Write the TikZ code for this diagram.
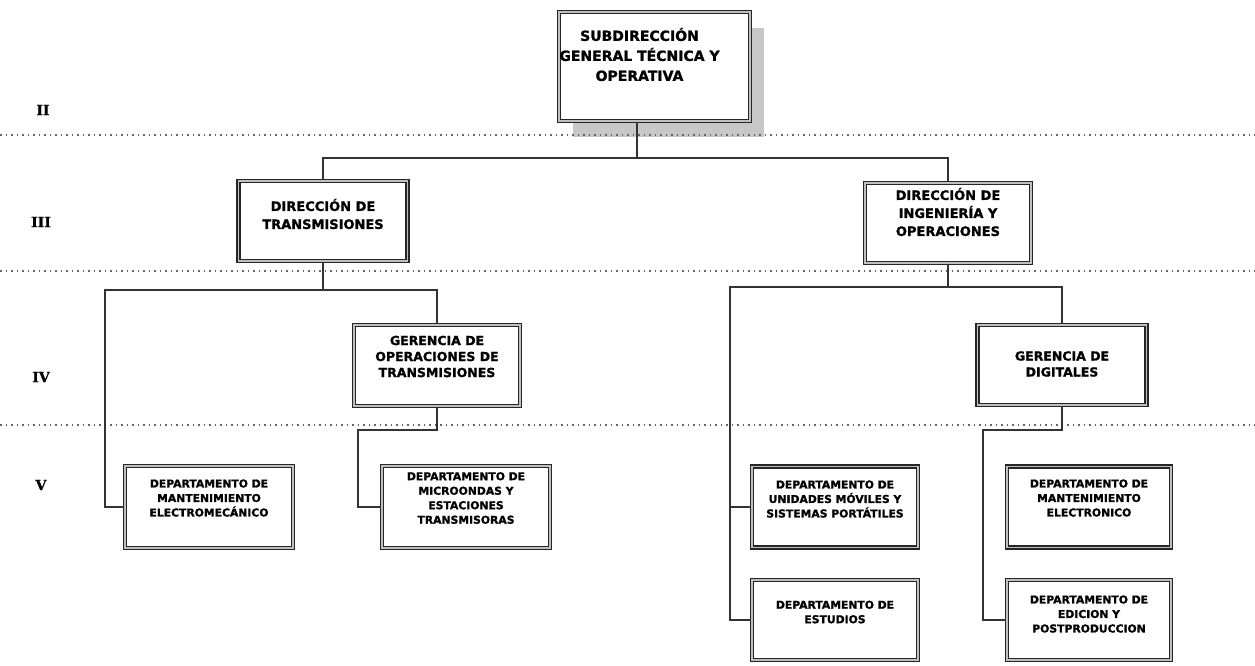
\documentclass[tikz,border=0pt]{standalone}
\usepackage{fontspec}
\setmainfont{DejaVu Sans}[BoldFeatures={FakeBold=1.2}]
\newfontfamily\levelfont{DejaVu Serif}[BoldFeatures={FakeBold=1.2}]
\usetikzlibrary{shadows}

\tikzset{
  box/.style={draw=black!85, line width=1.2pt, double=gray!50, double distance=1.8pt,
    fill=white, inner sep=0pt},
  boxtext/.style={align=center, text=black},
  sizeA/.style={font=\bfseries\fontsize{14}{20}\selectfont},
  sizeB/.style={font=\bfseries\fontsize{13}{18}\selectfont},
  sizeC/.style={font=\bfseries\fontsize{12.5}{16}\selectfont},
  sizeD/.style={font=\bfseries\fontsize{10.8}{14.5}\selectfont},
  conn/.style={line width=1.6pt, black!80},
  levelline/.style={dash pattern=on 1.5pt off 4pt, line width=1.4pt, black!60},
  levellabel/.style={font=\levelfont\bfseries\fontsize{14}{14}\selectfont}
}

\begin{document}
\begin{tikzpicture}[x=1pt, y=-1pt]
  \useasboundingbox (0,0) rectangle (1255,665);

  % Level II
  \node[box, minimum width=191pt, minimum height=109pt,
    drop shadow={shadow xshift=14pt, shadow yshift=-16pt, fill=black!22, opacity=1},
    label={[boxtext, sizeA, xshift=-15pt, yshift=12pt]center:{SUBDIRECCIÓN\\GENERAL TÉCNICA Y\\OPERATIVA}}]
    (sub) at (654.5,66.5) {};

  % Level III
  \node[box, minimum width=169pt, minimum height=80pt,
    label={[boxtext, sizeB, yshift=7pt]center:{DIRECCIÓN DE\\TRANSMISIONES}}]
    (trans) at (323,221) {};
  \node[box, minimum width=166pt, minimum height=80pt,
    label={[boxtext, sizeB, yshift=11pt]center:{DIRECCIÓN DE\\INGENIERÍA Y\\OPERACIONES}}]
    (ing) at (948,223) {};

  % Level IV
  \node[box, minimum width=166pt, minimum height=81pt,
    label={[boxtext, sizeC, yshift=9pt]center:{GERENCIA DE\\OPERACIONES DE\\TRANSMISIONES}}]
    (gop) at (437,365.5) {};
  \node[box, minimum width=169pt, minimum height=80pt,
    label={[boxtext, sizeC, yshift=1pt]center:{GERENCIA DE\\DIGITALES}}]
    (gdig) at (1062,365) {};

  % Level V
  \node[box, minimum width=168pt, minimum height=82pt,
    label={[boxtext, sizeD, yshift=9pt]center:{DEPARTAMENTO DE\\MANTENIMIENTO\\ELECTROMECÁNICO}}]
    (dme) at (209,507) {};
  \node[box, minimum width=168pt, minimum height=82pt,
    label={[boxtext, sizeD, yshift=9pt]center:{DEPARTAMENTO DE\\MICROONDAS Y\\ESTACIONES\\TRANSMISORAS}}]
    (dmi) at (466,507) {};
  \node[box, minimum width=166pt, minimum height=81pt,
    label={[boxtext, sizeD, yshift=8pt]center:{DEPARTAMENTO DE\\UNIDADES MÓVILES Y\\SISTEMAS PORTÁTILES}}]
    (dum) at (835,507) {};
  \node[box, minimum width=166pt, minimum height=80pt,
    label={[boxtext, sizeD, yshift=8pt]center:{DEPARTAMENTO DE\\ESTUDIOS}}]
    (dest) at (835,620) {};
  \node[box, minimum width=164pt, minimum height=81pt,
    label={[boxtext, sizeD, yshift=9pt]center:{DEPARTAMENTO DE\\MANTENIMIENTO\\ELECTRONICO}}]
    (dmel) at (1089,507) {};
  \node[box, minimum width=164pt, minimum height=80pt,
    label={[boxtext, sizeD, yshift=6pt]center:{DEPARTAMENTO DE\\EDICION Y\\POSTPRODUCCION}}]
    (ded) at (1089,620) {};

  % Level labels
  \node[levellabel] (lII) at (43,110) {II};
  \node[levellabel] (lIII) at (41,222) {III};
  \node[levellabel] (lIV) at (41,377) {IV};
  \node[levellabel] (lV) at (41,485) {V};

  % Level separators
  \foreach \y in {135,271,425} {
    \draw[levelline] (0,\y) -- (1255,\y);
  }

  % Connectors
  \coordinate (j1) at (637,158);
  \coordinate (j2) at (105,290);
  \coordinate (j3) at (358,430);
  \coordinate (j4) at (730,287);
  \coordinate (j5) at (983,430);

  \draw[conn] (j1 |- sub.south) -- (j1);
  \draw[conn] (trans.north) |- (j1) -| (ing.north);

  \draw[conn] (trans.south) -- (trans.south |- j2);
  \draw[conn] (dme.west) -| (j2) -| (gop.north);
  \draw[conn] (gop.south) |- (j3) |- (dmi.west);

  \draw[conn] (ing.south) -- (ing.south |- j4);
  \draw[conn] (dest.west) -| (j4) -| (gdig.north);
  \draw[conn] (dum.west) -- (dum.west -| j4);
  \draw[conn] (gdig.south) |- (j5) |- (ded.west);
\end{tikzpicture}
\end{document}
